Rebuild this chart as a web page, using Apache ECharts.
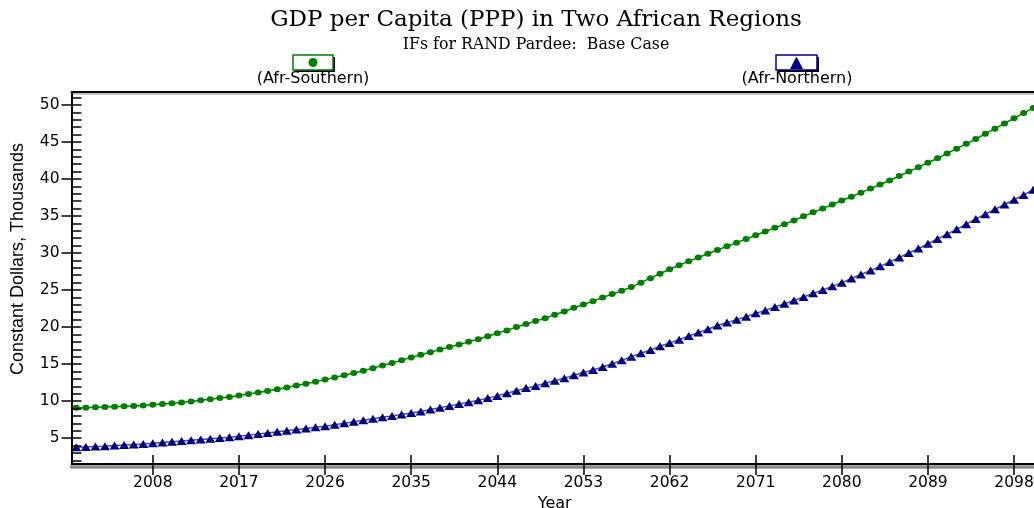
<!DOCTYPE html>
<html>
<head>
<meta charset="utf-8">
<script src="https://cdn.jsdelivr.net/npm/echarts@6/dist/echarts.min.js"></script>
<style>html,body{margin:0;padding:0;background:#fff;}#c{width:1034px;height:508px;}</style>
</head>
<body>
<div id="c"></div>
<script>
const titleText = 'GDP per Capita (PPP) in Two African Regions';
const subtitleText = 'IFs for RAND Pardee:  Base Case';
const seriesNames = ['(Afr-Southern)', '(Afr-Northern)'];
const startYear = 2000;
const southern = [
  9.1, 9.1, 9.15, 9.2, 9.25, 9.3, 9.35, 9.4, 9.5, 9.6,
  9.7, 9.8, 9.95, 10.1, 10.25, 10.4, 10.55, 10.75, 10.95, 11.15,
  11.35, 11.6, 11.85, 12.1, 12.35, 12.6, 12.9, 13.2, 13.5, 13.8,
  14.1, 14.45, 14.8, 15.15, 15.5, 15.9, 16.25, 16.6, 16.95, 17.3,
  17.65, 18.0, 18.35, 18.75, 19.15, 19.55, 20.0, 20.4, 20.8, 21.2,
  21.65, 22.1, 22.6, 23.05, 23.5, 24.0, 24.45, 24.9, 25.4, 26.0,
  26.6, 27.2, 27.8, 28.35, 28.9, 29.4, 29.9, 30.4, 30.9, 31.4,
  31.9, 32.4, 32.9, 33.4, 33.9, 34.4, 34.95, 35.5, 36.0, 36.55,
  37.1, 37.6, 38.15, 38.7, 39.25, 39.8, 40.4, 41.0, 41.6, 42.2,
  42.8, 43.45, 44.1, 44.75, 45.4, 46.1, 46.8, 47.5, 48.2, 48.9,
  49.6
];
const northern = [
  3.75, 3.8, 3.85, 3.9, 4.0, 4.05, 4.15, 4.2, 4.3, 4.4,
  4.5, 4.6, 4.7, 4.8, 4.9, 5.0, 5.1, 5.25, 5.4, 5.55,
  5.7, 5.85, 6.0, 6.15, 6.3, 6.45, 6.6, 6.8, 7.0, 7.2,
  7.4, 7.6, 7.8, 8.0, 8.2, 8.4, 8.6, 8.85, 9.1, 9.35,
  9.6, 9.85, 10.1, 10.4, 10.7, 11.05, 11.4, 11.75, 12.05, 12.4,
  12.75, 13.1, 13.5, 13.85, 14.2, 14.6, 15.05, 15.5, 16.0, 16.45,
  16.9, 17.4, 17.85, 18.3, 18.8, 19.25, 19.7, 20.2, 20.6, 21.0,
  21.4, 21.85, 22.25, 22.7, 23.15, 23.6, 24.05, 24.55, 25.0, 25.5,
  26.0, 26.55, 27.1, 27.65, 28.2, 28.8, 29.4, 30.0, 30.6, 31.25,
  31.9, 32.55, 33.2, 33.9, 34.6, 35.25, 35.9, 36.55, 37.2, 37.85,
  38.55
];
const xTickYears = [2008, 2017, 2026, 2035, 2044, 2053, 2062, 2071, 2080, 2089, 2098];
const yMajorTicks = [5, 10, 15, 20, 25, 30, 35, 40, 45, 50];
const yMinorTicks = [2,3,4,6,7,8,9,11,12,13,14,16,17,18,19,21,22,23,24,26,27,28,29,31,32,33,34,36,37,38,39,41,42,43,44,46,47,48,49,51];
const xRange = [1999.5, 2100.5];
const yRange = [1.5, 51.75];
const yAxisName = 'Constant Dollars, Thousands';
const xAxisName = 'Year';

const toPairs = (vals) => vals.map((v, i) => [startYear + i, v]);

const GREEN = '#008000';
const NAVY = '#000080';
const SANS = 'DejaVu Sans';
const SERIF = 'DejaVu Serif';

const chart = echarts.init(document.getElementById('c'), null, {renderer: 'canvas'});
const hidden = {show: false};
const option = {
  animation: false,
  backgroundColor: '#fff',
  title: [
    {text: titleText, left: 531, top: 4, textAlign: 'center',
     textStyle: {fontFamily: SERIF, fontSize: 23, fontWeight: 'normal', color: '#000'}},
    {text: subtitleText, left: 531, top: 32, textAlign: 'center',
     textStyle: {fontFamily: SERIF, fontSize: 15.8, fontWeight: 'normal', color: '#000'}}
  ],
  grid: {left: 71.5, right: -4, top: 92, bottom: 44, containLabel: false, outerBoundsMode: 'none'},
  xAxis: [
    { // main bottom axis with outside ticks and labels
      type: 'value', min: xRange[0], max: xRange[1], position: 'bottom', z: 5,
      axisLine: {show: true, lineStyle: {color: '#000', width: 2}},
      axisTick: {show: true, customValues: xTickYears, length: 11, lineStyle: {color: '#000', width: 1.5}},
      axisLabel: {show: true, customValues: xTickYears, margin: 11, color: '#000', fontFamily: SANS, fontSize: 15.5,
                  formatter: (v) => String(v)},
      splitLine: hidden,
      name: xAxisName, nameLocation: 'middle', nameGap: 25,
      nameTextStyle: {fontFamily: SANS, fontSize: 16, color: '#000'}
    },
    { // inside part of the x ticks
      type: 'value', min: xRange[0], max: xRange[1], position: 'bottom', z: 5,
      axisLine: hidden,
      axisTick: {show: true, inside: true, customValues: xTickYears, length: 9, lineStyle: {color: '#000', width: 1.5}},
      axisLabel: hidden, splitLine: hidden
    },
    { // gray shadow under bottom axis
      type: 'value', min: xRange[0], max: xRange[1], position: 'bottom', offset: 3, z: 1,
      axisLine: {show: true, lineStyle: {color: '#8c8c8c', width: 3.5}},
      axisTick: hidden, axisLabel: hidden, splitLine: hidden
    },
    { // top border
      type: 'value', min: xRange[0], max: xRange[1], position: 'top', z: 5,
      axisLine: {show: true, lineStyle: {color: '#000', width: 2}},
      axisTick: hidden, axisLabel: hidden, splitLine: hidden
    },
    { // light shadow under top border
      type: 'value', min: xRange[0], max: xRange[1], position: 'top', offset: -2, z: 1,
      axisLine: {show: true, lineStyle: {color: '#b0b0b0', width: 1.5}},
      axisTick: hidden, axisLabel: hidden, splitLine: hidden
    }
  ],
  yAxis: [
    {
      type: 'value', min: yRange[0], max: yRange[1], position: 'left', z: 5,
      axisLine: {show: true, lineStyle: {color: '#000', width: 2}},
      axisTick: {show: true, customValues: yMajorTicks, length: 10, lineStyle: {color: '#000', width: 1.5}},
      axisLabel: {show: true, customValues: yMajorTicks, margin: 12, color: '#000', fontFamily: SANS, fontSize: 15.5},
      splitLine: hidden,
      name: yAxisName, nameLocation: 'middle', nameGap: 44, nameRotate: 90,
      nameTextStyle: {fontFamily: 'Liberation Sans', fontSize: 18, color: '#000', padding: [0, 0, 0, 38]}
    },
    {
      type: 'value', min: yRange[0], max: yRange[1], position: 'left', z: 5,
      axisLine: hidden,
      axisTick: {show: true, inside: true, customValues: yMajorTicks.concat(yMinorTicks), length: 10,
                 lineStyle: {color: '#000', width: 1.5}},
      axisLabel: hidden, splitLine: hidden
    }
  ],
  graphic: [
    // legend: Southern
    {type: 'rect', shape: {x: 295, y: 57, width: 40, height: 15}, style: {fill: '#000'}, z: 10},
    {type: 'rect', shape: {x: 293, y: 55, width: 40, height: 15}, style: {fill: '#fff', stroke: GREEN, lineWidth: 1.5}, z: 11},
    {type: 'circle', shape: {cx: 313, cy: 62.5, r: 4.5}, style: {fill: GREEN}, z: 12},
    {type: 'text', x: 313, y: 79, style: {text: seriesNames[0], fill: '#000', font: '16px "DejaVu Sans"', align: 'center', verticalAlign: 'middle'}, z: 12},
    // legend: Northern
    {type: 'rect', shape: {x: 778, y: 57, width: 41, height: 15}, style: {fill: '#000'}, z: 10},
    {type: 'rect', shape: {x: 776, y: 55, width: 41, height: 15}, style: {fill: '#fff', stroke: NAVY, lineWidth: 1.5}, z: 11},
    {type: 'polygon', shape: {points: [[796.5, 56.5], [790, 69], [803, 69]]}, style: {fill: NAVY}, z: 12},
    {type: 'text', x: 797, y: 79, style: {text: seriesNames[1], fill: '#000', font: '16px "DejaVu Sans"', align: 'center', verticalAlign: 'middle'}, z: 12}
  ],
  series: [
    {
      name: seriesNames[0], type: 'line', xAxisIndex: 0, yAxisIndex: 0,
      data: toPairs(southern), showAllSymbol: true, symbol: 'circle', symbolSize: [7, 6],
      itemStyle: {color: GREEN}, lineStyle: {color: GREEN, width: 1.5},
      emphasis: {disabled: true}, clip: false, z: 3
    },
    {
      name: seriesNames[1], type: 'line', xAxisIndex: 0, yAxisIndex: 0,
      data: toPairs(northern), showAllSymbol: true, symbol: 'triangle', symbolSize: [10, 8],
      itemStyle: {color: NAVY}, lineStyle: {color: '#4a4aa8', width: 1.5},
      emphasis: {disabled: true}, clip: false, z: 3
    }
  ]
};
chart.setOption(option);
</script>
</body>
</html>
